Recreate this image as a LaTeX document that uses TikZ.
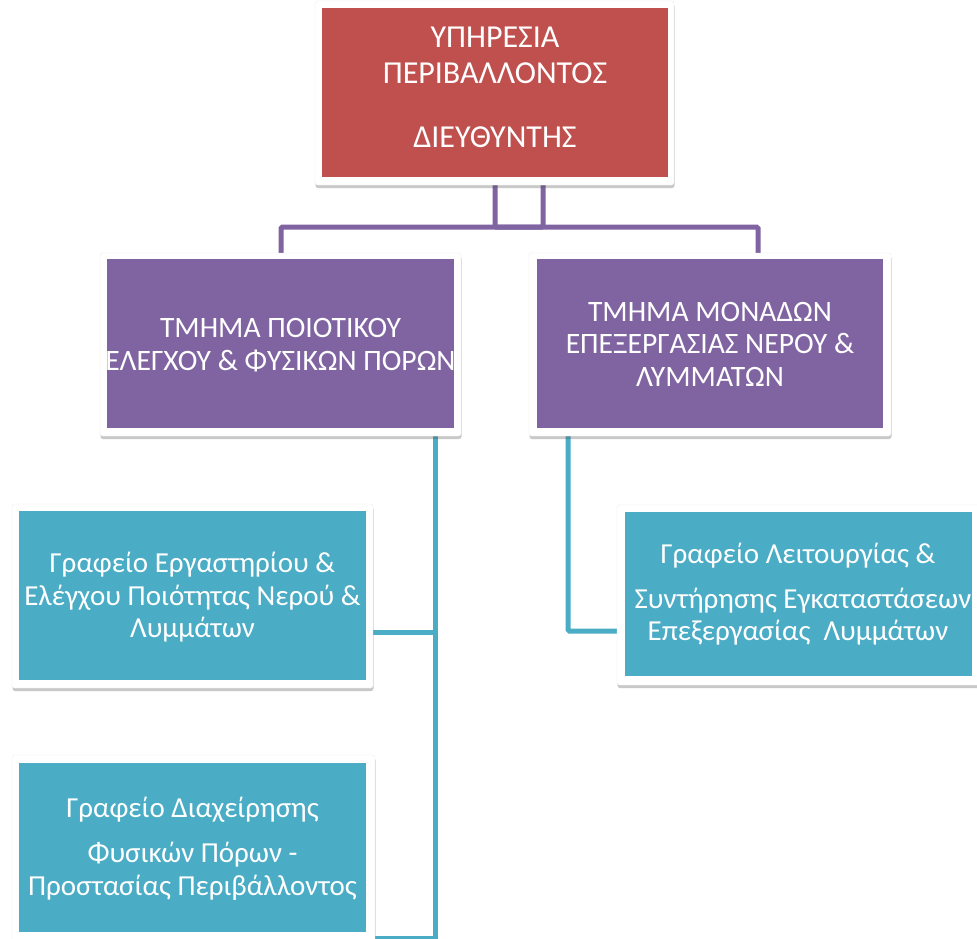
\documentclass[tikz,border=0pt]{standalone}
\usepackage{fontspec}
\setmainfont{Carlito}
\usetikzlibrary{shadows}
\definecolor{redbox}{HTML}{C0504D}
\definecolor{purplebox}{HTML}{8064A2}
\definecolor{tealbox}{HTML}{4BACC6}
\begin{document}
\begin{tikzpicture}[x=1pt,y=-1pt,
  frame/.style={fill=white, draw=black!7, rounded corners=2.5pt, inner sep=0pt, outer sep=0pt, anchor=north west,
    drop shadow={shadow xshift=0.5pt, shadow yshift=-3pt, opacity=0.3, fill=black!70}},
  inbox/.style={inner sep=0pt, outer sep=0pt, anchor=north west},
  lbl/.style={text=white, anchor=base, inner sep=0pt, font=\fontsize{29}{32}\selectfont},
  lbltop/.style={lbl, font=\fontsize{32}{35}\selectfont},
  lblmid/.style={lbl, font=\fontsize{29.6}{33}\selectfont},
  plink/.style={draw=purplebox, line width=5pt, rounded corners=1.5pt},
  tlink/.style={draw=tealbox, line width=5pt, rounded corners=1.5pt}]
\clip (0,0) rectangle (977,939);
\fill[white] (0,0) rectangle (977,939);
% connector anchor points
\coordinate (pa) at (495,180);
\coordinate (pb) at (543,180);
\coordinate (pl) at (281,260);
\coordinate (pr) at (758,260);
\coordinate (ta) at (435,430);
\coordinate (tb) at (568,430);
\coordinate (tend) at (435,945);
% connectors
\draw[plink] (pa) |- (pr |- 0,227) -- (pr);
\draw[plink] (pb) |- (pl |- 0,227) -- (pl);
\draw[tlink] (ta) -- (tend);
\draw[tlink] (ta |- 0,632) -- (370,632) coordinate (c1);
\draw[tlink] (ta |- 0,938) -- (370,938) coordinate (c3);
\draw[tlink] (tb) |- (622,631) coordinate (c2);
% top box
\node[frame, minimum width=359pt, minimum height=184pt] (topf) at (315,1) {};
\node[inbox, fill=redbox, minimum width=346pt, minimum height=169pt] (top) at (322,8) {};
\node[lbltop] (t1) at (495,48) {ΥΠΗΡΕΣΙΑ};
\node[lbltop] (t2) at (495,84) {ΠΕΡΙΒΑΛΛΟΝΤΟΣ};
\node[lbltop] (t3) at (495,148) {ΔΙΕΥΘΥΝΤΗΣ};
% left purple
\node[frame, minimum width=361pt, minimum height=183pt] (lpf) at (100,253) {};
\node[inbox, fill=purplebox, minimum width=347pt, minimum height=169pt] (lp) at (107,259) {};
\node[lblmid] (l1) at (280.5,337) {ΤΜΗΜΑ ΠΟΙΟΤΙΚΟΥ};
\node[lblmid] (l2) at (280.5,370) {ΕΛΕΓΧΟΥ \& ΦΥΣΙΚΩΝ ΠΟΡΩΝ};
% right purple
\node[frame, minimum width=362pt, minimum height=183pt] (rpf) at (529,253) {};
\node[inbox, fill=purplebox, minimum width=346pt, minimum height=169pt] (rp) at (537,259) {};
\node[lblmid] (r1) at (710,321) {ΤΜΗΜΑ ΜΟΝΑΔΩΝ};
\node[lblmid] (r2) at (710,353) {ΕΠΕΞΕΡΓΑΣΙΑΣ ΝΕΡΟΥ \&};
\node[lblmid] (r3) at (710,386) {ΛΥΜΜΑΤΩΝ};
% teal 1
\node[frame, minimum width=361pt, minimum height=184pt] (g1f) at (12,504) {};
\node[inbox, fill=tealbox, minimum width=347pt, minimum height=169pt] (g1) at (19,511) {};
\node[lbl] (g1a) at (192.5,572) {Γραφείο Εργαστηρίου \&};
\node[lbl] (g1b) at (192.5,605) {Ελέγχου Ποιότητας Νερού \&};
\node[lbl] (g1c) at (192.5,637) {Λυμμάτων};
% teal right
\node[frame, minimum width=370pt, minimum height=180pt] (g2f) at (617,505) {};
\node[inbox, fill=tealbox, minimum width=347pt, minimum height=164pt] (g2) at (625,512) {};
\begin{scope}
\clip (g2.north west) rectangle (g2.south east);
\node[lbl] (g2a) at (798,563) {Γραφείο Λειτουργίας \&};
\node[lbl] (g2b) at (803,608) {Συντήρησης Εγκαταστάσεων};
\node[lbl] (g2c) at (798,640) {Επεξεργασίας\ \ Λυμμάτων};
\end{scope}
% teal bottom
\node[frame, minimum width=363pt, minimum height=200pt] (g3f) at (12,755) {};
\node[inbox, fill=tealbox, minimum width=347pt, minimum height=169pt] (g3) at (19,763) {};
\node[lbl] (g3a) at (192.5,817) {Γραφείο Διαχείρησης};
\node[lbl] (g3b) at (192.5,862) {Φυσικών Πόρων -};
\node[lbl] (g3c) at (192.5,895) {Προστασίας Περιβάλλοντος};
\end{tikzpicture}
\end{document}
